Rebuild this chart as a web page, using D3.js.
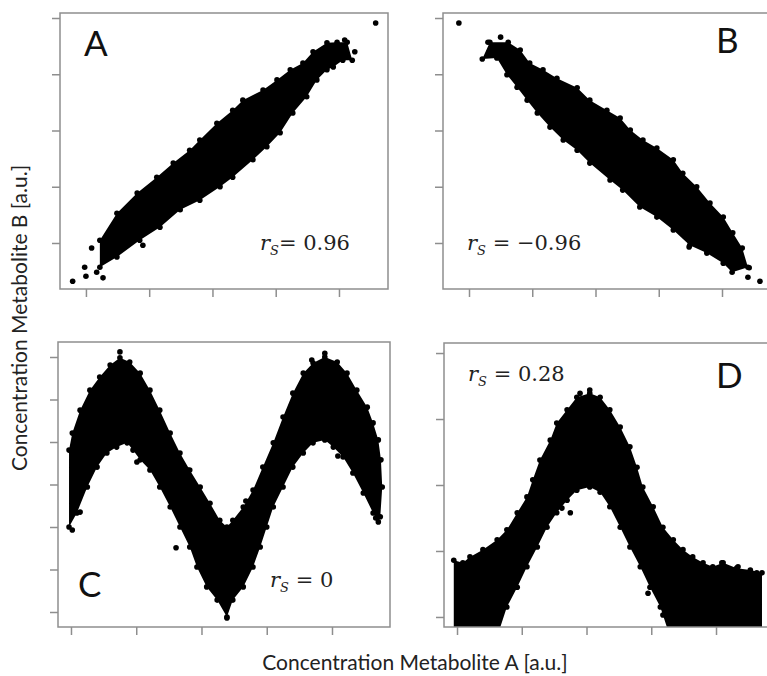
<!DOCTYPE html>
<html>
<head>
<meta charset="utf-8">
<script src="https://cdn.jsdelivr.net/npm/d3@7"></script>
<style>
  body { margin: 0; background: #fff; }
  svg { display: block; }
</style>
</head>
<body>
<svg id="chart" width="767" height="676"></svg>
<script>
// Unlabelled tick positions (arbitrary units)
const xTicks = [0, 1, 2, 3, 4];
const yTicks5 = [0, 1, 2, 3, 4];
const yTicks7 = [0, 1, 2, 3, 4, 5, 6];

// Panel A: strong positive monotone relation — cloud edges and stray points
const aUpper = [[0.22,0.05],[0.49,0.53],[0.81,0.89],[1.12,1.17],[1.38,1.42],[1.64,1.65],[1.80,1.83],
  [2.07,2.13],[2.32,2.36],[2.48,2.54],[2.80,2.72],[3.02,2.90],[3.23,3.08],[3.43,3.20],[3.59,3.40],
  [3.81,3.56],[3.97,3.57],[4.13,3.57]];
const aLower = [[0.22,-0.43],[0.49,-0.25],[0.85,0.05],[1.17,0.28],[1.49,0.59],[1.80,0.76],[2.12,1.00],
  [2.32,1.17],[2.64,1.48],[2.86,1.71],[3.07,1.96],[3.27,2.31],[3.49,2.60],[3.65,2.90],[3.81,3.08],
  [3.91,3.13],[4.06,3.25],[4.21,3.25]];
const aStray = [[-0.21,-0.68],[0.00,-0.59],[-0.02,-0.43],[0.09,-0.09],[0.17,-0.52],[0.27,-0.62],
  [0.90,-0.04],[4.58,3.91],[4.09,3.61],[3.89,3.43],[4.25,3.40]];

// Panel B: strong negative monotone relation
const bUpper = [[0.33,3.57],[0.62,3.57],[0.81,3.43],[0.96,3.20],[1.17,3.08],[1.39,2.93],[1.71,2.76],
  [1.91,2.54],[2.18,2.36],[2.39,2.22],[2.55,2.01],[2.75,1.83],[2.97,1.69],[3.23,1.48],[3.38,1.24],
  [3.60,1.00],[3.81,0.71],[4.02,0.46],[4.17,0.18],[4.32,-0.09],[4.41,-0.43]];
const bLower = [[0.21,3.27],[0.44,3.29],[0.60,2.99],[0.76,2.77],[0.92,2.54],[1.08,2.31],[1.28,2.06],
  [1.49,1.83],[1.71,1.65],[1.91,1.42],[2.23,1.12],[2.43,0.94],[2.70,0.64],[2.97,0.46],[3.23,0.23],
  [3.49,-0.04],[3.76,-0.18],[4.02,-0.36],[4.16,-0.52]];
const bStray = [[-0.16,3.91],[4.60,-0.68],[4.41,-0.61],[4.43,-0.44],[4.28,-0.11],[3.48,-0.07],
  [0.30,3.57],[0.32,3.40],[0.50,3.66]];

// Panel C: periodic (non-monotone) relation
const cUpper = [[-0.03,3.81],[0.02,4.21],[0.14,4.75],[0.29,5.22],[0.44,5.53],[0.60,5.81],[0.75,5.98],
  [0.90,5.88],[1.06,5.62],[1.21,5.22],[1.36,4.75],[1.52,4.21],[1.67,3.74],[1.82,3.34],[1.98,2.94],
  [2.13,2.56],[2.28,2.16],[2.39,2.00],[2.48,2.16],[2.64,2.47],[2.79,2.87],[2.94,3.41],[3.10,3.98],
  [3.25,4.59],[3.40,5.15],[3.56,5.62],[3.71,5.86],[3.89,6.00],[4.08,5.88],[4.23,5.62],[4.38,5.22],
  [4.54,4.82],[4.63,4.45],[4.71,4.05],[4.75,3.58],[4.77,2.94],[4.74,2.24]];
const cLower = [[-0.03,2.00],[0.09,2.33],[0.25,2.94],[0.40,3.41],[0.55,3.74],[0.70,3.88],[0.86,3.98],
  [0.95,3.81],[1.06,3.58],[1.21,3.34],[1.36,2.94],[1.52,2.47],[1.67,2.00],[1.82,1.53],[1.93,1.06],
  [2.08,0.59],[2.24,0.28],[2.39,-0.12],[2.48,0.28],[2.64,0.59],[2.79,1.06],[2.90,1.53],[3.00,2.00],
  [3.10,2.47],[3.25,2.94],[3.40,3.41],[3.56,3.74],[3.71,3.98],[3.89,4.05],[4.02,3.88],[4.17,3.65],
  [4.32,3.27],[4.48,2.80],[4.63,2.33],[4.71,2.12]];
const cStray = [[0.75,6.12],[4.67,2.21],[0.02,1.93],[1.79,3.34],[1.01,3.53],[1.61,1.51],[2.68,2.61],
  [4.09,3.67],[2.39,-0.14],[3.89,6.09],[3.69,5.93],[0.14,2.35]];

// Panel D: hump-shaped relation, lower values run past the axis floor
const dTop = [[-0.05,0.86],[0.09,0.82],[0.20,0.91],[0.40,1.02],[0.62,1.17],[0.77,1.32],[0.93,1.58],
  [1.08,1.82],[1.17,2.08],[1.28,2.38],[1.44,2.68],[1.54,2.94],[1.70,3.14],[1.85,3.33],[2.05,3.39],
  [2.21,3.33],[2.36,3.14],[2.52,2.88],[2.67,2.58],[2.78,2.27],[2.87,1.97],[3.03,1.67],[3.18,1.36],
  [3.34,1.17],[3.49,1.02],[3.64,0.91],[3.80,0.82],[3.95,0.76],[4.11,0.82],[4.32,0.74],[4.53,0.71],
  [4.71,0.67]];
const dInner = [[0.62,-0.30],[0.77,0.15],[0.93,0.45],[1.08,0.76],[1.24,1.06],[1.39,1.36],[1.54,1.58],
  [1.70,1.77],[1.85,1.92],[2.05,1.97],[2.21,1.89],[2.36,1.67],[2.52,1.36],[2.67,1.06],[2.83,0.76],
  [2.98,0.45],[3.14,0.15],[3.29,-0.30]];
const dStray = [[1.75,1.58],[1.62,1.65],[2.95,0.36],[3.18,0.03],[1.90,3.39],[2.05,3.44],[4.34,0.76],
  [4.09,0.82],[4.63,0.67]];
const dFloor = -0.5;  // cloud continues below the visible region

// Annotation text
const letters = ["A", "B", "C", "D"];
const rhoValues = ["0.96", "\u22120.96", "0", "0.28"];
const xTitle = "Concentration Metabolite A [a.u.]";
const yTitle = "Concentration Metabolite B [a.u.]";

// ---- layout of the four plot regions ----
const panels = [
  { box: [60, 388, 13, 289], xDom: [-0.41, 4.775], yDom: [-0.818, 4.089], yTicks: yTicks5,
    outline: aUpper.concat(aLower.slice().reverse()), edges: aUpper.concat(aLower), stray: aStray,
    letter: [84, 56], rho: [260, 250], rhoGap: "" },
  { box: [443, 775, 13, 289], xDom: [-0.411, 4.838], yDom: [-0.818, 4.089], yTicks: yTicks5,
    outline: bUpper.concat(bLower.slice().reverse()), edges: bUpper.concat(bLower), stray: bStray,
    letter: [716, 53], rho: [467, 250], rhoGap: " " },
  { box: [58, 390, 342, 627], xDom: [-0.199, 4.889], yDom: [-0.353, 6.353], yTicks: yTicks7,
    outline: cUpper.concat(cLower.slice().reverse()), edges: cUpper.concat(cLower), stray: cStray,
    letter: [78, 597], rho: [270, 587], rhoGap: " " },
  { box: [444, 775, 343, 627], xDom: [-0.201, 4.911], yDom: [-0.152, 4.152], yTicks: yTicks5,
    outline: [[dTop[0][0], dFloor]].concat(dTop, [[dTop[dTop.length - 1][0], dFloor]],
             [[dInner[dInner.length - 1][0], dFloor]], dInner.slice().reverse(), [[dInner[0][0], dFloor]]),
    edges: dTop.concat(dInner), stray: dStray,
    letter: [716, 388], rho: [468, 381], rhoGap: " " }
];

const svg = d3.select("#chart");
const frameColor = "#8e8e8e";
const dotR = 2.8;

panels.forEach((p, i) => {
  const [left, right, top, bottom] = p.box;
  const x = d3.scaleLinear().domain(p.xDom).range([left, right]);
  const y = d3.scaleLinear().domain(p.yDom).range([bottom, top]);
  const g = svg.append("g");

  const clipId = "clip" + i;
  svg.append("clipPath").attr("id", clipId)
    .append("rect").attr("x", left).attr("y", top)
    .attr("width", right - left).attr("height", bottom - top);

  const cloud = g.append("g").attr("clip-path", `url(#${clipId})`);
  const line = d3.line().x(d => x(d[0])).y(d => y(d[1]));
  cloud.append("path").attr("d", line(p.outline) + "Z").attr("fill", "#000");
  cloud.selectAll("circle.edge").data(p.edges).join("circle").attr("class", "edge")
    .attr("cx", d => x(d[0])).attr("cy", d => y(d[1])).attr("r", dotR).attr("fill", "#000");
  cloud.selectAll("circle.stray").data(p.stray).join("circle").attr("class", "stray")
    .attr("cx", d => x(d[0])).attr("cy", d => y(d[1])).attr("r", dotR).attr("fill", "#000");

  // plot frame
  g.append("rect").attr("x", left).attr("y", top)
    .attr("width", right - left).attr("height", bottom - top)
    .attr("fill", "none").attr("stroke", frameColor).attr("stroke-width", 1.5);

  // unlabelled axes
  const xAxis = g.append("g").attr("transform", `translate(0,${bottom})`)
    .call(d3.axisBottom(x).tickValues(xTicks).tickFormat("").tickSizeInner(8).tickSizeOuter(0));
  const yAxis = g.append("g").attr("transform", `translate(${left},0)`)
    .call(d3.axisLeft(y).tickValues(p.yTicks).tickFormat("").tickSizeInner(8).tickSizeOuter(0));
  [xAxis, yAxis].forEach(a => {
    a.select(".domain").remove();
    a.selectAll(".tick line").attr("stroke", frameColor).attr("stroke-width", 1.5);
  });

  // panel letter
  g.append("text").attr("x", p.letter[0]).attr("y", p.letter[1])
    .attr("font-family", "Lato, 'Open Sans', sans-serif").attr("font-size", 35)
    .attr("fill", "#111").text(letters[i]);

  // Spearman coefficient
  const t = g.append("text").attr("x", p.rho[0]).attr("y", p.rho[1])
    .attr("font-family", "'DejaVu Serif', serif").attr("font-size", 21).attr("fill", "#222");
  t.append("tspan").attr("font-style", "italic").text("r");
  t.append("tspan").attr("font-style", "italic").attr("font-size", 13).attr("dy", 5).text("S");
  t.append("tspan").attr("dy", -5).text(p.rhoGap + "= " + rhoValues[i]);
});

// axis titles shared by all panels
svg.append("text").attr("x", 415).attr("y", 670).attr("text-anchor", "middle")
  .attr("font-family", "Lato, 'Open Sans', sans-serif").attr("font-size", 21).attr("fill", "#222")
  .text(xTitle);
svg.append("text").attr("transform", "translate(27,318) rotate(-90)").attr("text-anchor", "middle")
  .attr("font-family", "Lato, 'Open Sans', sans-serif").attr("font-size", 21).attr("fill", "#222")
  .text(yTitle);
</script>
</body>
</html>
